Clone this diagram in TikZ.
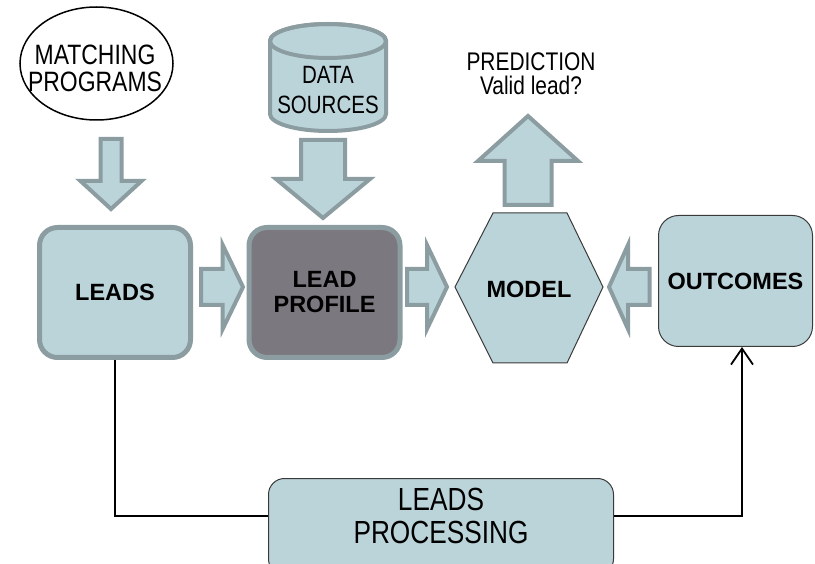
\documentclass[tikz,border=0pt]{standalone}
\usepackage{fontspec}
\setmainfont{Liberation Sans}
\newfontfamily\narrowsans{Liberation Sans}[FakeStretch=0.82]
\usetikzlibrary{arrows.meta,shapes.geometric}
\definecolor{paleblue}{HTML}{BBD4DA}
\definecolor{slategrey}{HTML}{8B9DA1}
\definecolor{profilegrey}{HTML}{7B787F}
\definecolor{edgedark}{HTML}{3A3A3A}

\begin{document}
\begin{tikzpicture}[x=1pt,y=1pt,
  boldtext/.style={font=\fontsize{23.5}{25}\selectfont\bfseries, align=center, inner sep=0pt},
  plaintext/.style={font=\narrowsans\fontsize{25.5}{24}\selectfont, align=center, inner sep=0pt},
  thickbox/.style={boldtext, draw=slategrey, line width=5pt, rounded corners=18pt,
    fill=paleblue, minimum width=151pt, minimum height=130pt},
  thinbox/.style={draw=edgedark, line width=1pt, rounded corners=20pt, fill=paleblue},
  blockarrow/.style={draw=slategrey, fill=paleblue, line width=4pt, line join=miter},
  link/.style={line width=1.8pt, draw=black}]

\useasboundingbox (0,0) rectangle (815,-564);
\clip (0,0) rectangle (815,-564);

% ---- sources at the top ----
\node[ellipse, draw=black, line width=1.5pt, fill=white, minimum width=153pt,
  minimum height=113pt, inner sep=0pt] (match) at (96.5,-63.5) {};
\node[plaintext, font=\narrowsans\fontsize{28}{27}\selectfont] (matchtext) at (95,-68.5)
  {MATCHING\\PROGRAMS};

% data store drawn as a cylinder
\filldraw[blockarrow] (270,-41) -- (270,-114)
  arc[start angle=180, end angle=360, x radius=58pt, y radius=17pt]
  -- (386,-41)
  arc[start angle=0, end angle=180, x radius=58pt, y radius=17pt] -- cycle;
\draw[draw=slategrey, line width=4pt] (328,-41) ellipse[x radius=58pt, y radius=17pt];
\node[plaintext, font=\narrowsans\fontsize{25}{30}\selectfont] (data) at (328,-90)
  {DATA\\SOURCES};

\node[plaintext] (pred) at (531,-74) {PREDICTION\\Valid lead?};

% ---- main row ----
\node[thickbox] (leads) at (115,-292.5) {LEADS};
\node[thickbox, fill=profilegrey] (profile) at (324.5,-292.5) {LEAD\\PROFILE};

\filldraw[fill=paleblue, draw=edgedark, line width=1pt]
  (455,-287) -- (493,-213) -- (567,-213) -- (603,-287) -- (567,-363) -- (493,-363) -- cycle;
\node[boldtext] (model) at (529,-289) {MODEL};

\node[thinbox, boldtext, minimum width=154pt, minimum height=131pt] (outcomes)
  at (735.5,-281) {OUTCOMES};

% ---- block arrows ----
% matching programs -> leads
\draw[blockarrow] (100.5,-139) -- (121.5,-139) -- (121.5,-181) -- (141.5,-181)
  -- (111,-209) -- (80.5,-181) -- (100.5,-181) -- cycle;
% data sources -> lead profile
\draw[blockarrow] (301,-140) -- (345,-140) -- (345,-179) -- (370,-179)
  -- (323,-218) -- (276,-179) -- (301,-179) -- cycle;
% model -> prediction
\draw[blockarrow] (504.5,-205) -- (551.5,-205) -- (551.5,-161) -- (578,-161)
  -- (528,-116) -- (478,-161) -- (504.5,-161) -- cycle;
% leads -> lead profile
\draw[blockarrow] (201,-269) -- (222.7,-269) -- (222.7,-245) -- (243,-287)
  -- (222.7,-329) -- (222.7,-305) -- (201,-305) -- cycle;
% lead profile -> model
\draw[blockarrow] (407,-269) -- (427,-269) -- (427,-245) -- (447,-287)
  -- (427,-329) -- (427,-305) -- (407,-305) -- cycle;
% outcomes -> model
\draw[blockarrow] (649.7,-269) -- (628,-269) -- (628,-245) -- (609,-287)
  -- (628,-329) -- (628,-305) -- (649.7,-305) -- cycle;

% ---- processing loop ----
\draw[thinbox, rounded corners=16pt] (268.5,-478.5) rectangle (613.5,-575);
\node[plaintext, font=\narrowsans\fontsize{32}{33}\selectfont, minimum width=345pt,
  minimum height=76pt] (proc) at (441,-516) {LEADS\\PROCESSING};

\draw[link] (leads.south) |- (proc.west);
\draw[link, -{Straight Barb[length=16pt, width=22pt]}]
  (proc.east) -| ([xshift=6.5pt]outcomes.south);

\end{tikzpicture}
\end{document}
